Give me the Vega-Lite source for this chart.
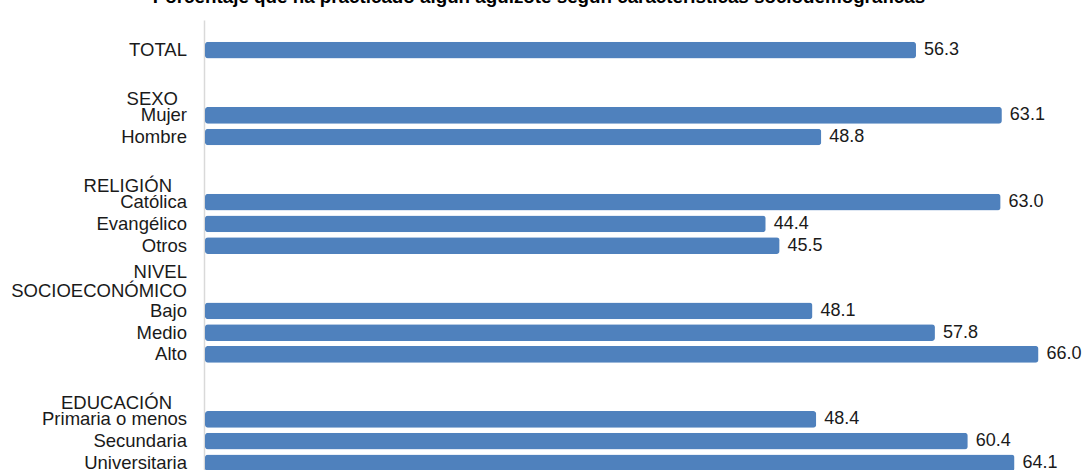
{
  "$schema": "https://vega.github.io/schema/vega-lite/v6.json",
  "autosize": "none",
  "padding": {"left": 205, "top": 20, "right": 0, "bottom": 0},
  "width": 884,
  "height": 473,
  "background": "white",
  "title": {
    "text": "Porcentaje que ha practicado algún agüizote según características sociodemográficas",
    "anchor": "middle",
    "dx": -108,
    "offset": 13,
    "font": "Liberation Sans",
    "fontSize": 18.8,
    "fontWeight": "bold",
    "color": "#000000"
  },
  "config": {
    "view": {"stroke": null},
    "text": {"font": "Liberation Sans", "fontSize": 18.5, "color": "#1a1a1a"}
  },
  "data": {
    "values": [
      {"row": "TOTAL", "label": "TOTAL", "value": 56.3},
      {"row": "Mujer", "label": "Mujer", "group": "SEXO", "value": 63.1},
      {"row": "Hombre", "label": "Hombre", "value": 48.8},
      {"row": "Católica", "label": "Católica", "group": "RELIGIÓN", "value": 63.0},
      {"row": "Evangélico", "label": "Evangélico", "value": 44.4},
      {"row": "Otros", "label": "Otros", "value": 45.5},
      {"row": "Bajo", "label": "Bajo", "group": "NIVEL SOCIOECONÓMICO", "value": 48.1},
      {"row": "Medio", "label": "Medio", "value": 57.8},
      {"row": "Alto", "label": "Alto", "value": 66.0},
      {"row": "Primaria o menos", "label": "Primaria o menos", "group": "EDUCACIÓN", "value": 48.4},
      {"row": "Secundaria", "label": "Secundaria", "value": 60.4},
      {"row": "Universitaria", "label": "Universitaria", "value": 64.1}
    ]
  },
  "encoding": {
    "y": {
      "field": "row",
      "type": "nominal",
      "scale": {
        "domain": ["TOTAL", "_1", "_2", "Mujer", "Hombre", "_5", "_6", "Católica", "Evangélico", "Otros", "_10", "_11", "Bajo", "Medio", "Alto", "_15", "_16", "Primaria o menos", "Secundaria", "Universitaria"],
        "paddingInner": 0.23,
        "paddingOuter": 1.18
      },
      "axis": {
        "title": null,
        "labels": false,
        "ticks": false,
        "domainColor": "#d9d9d9",
        "domainWidth": 1.5,
        "offset": 1
      }
    }
  },
  "layer": [
    {
      "mark": {"type": "bar", "color": "#4f81bd", "cornerRadius": 3},
      "encoding": {
        "x": {
          "field": "value",
          "type": "quantitative",
          "scale": {"domain": [0, 70], "nice": false, "zero": true},
          "axis": null
        }
      }
    },
    {
      "mark": {"type": "text", "align": "left", "baseline": "middle", "dx": 8, "fontSize": 18},
      "encoding": {
        "x": {"field": "value", "type": "quantitative"},
        "text": {"field": "value", "type": "quantitative", "format": ".1f"}
      }
    },
    {
      "mark": {"type": "text", "align": "right", "baseline": "middle", "dx": -18},
      "encoding": {
        "x": {"datum": 0, "type": "quantitative"},
        "text": {"field": "label"}
      }
    },
    {
      "transform": [{"filter": "datum.group == 'SEXO'"}],
      "mark": {"type": "text", "align": "right", "baseline": "bottom", "dx": -27, "dy": -6.5},
      "encoding": {
        "x": {"datum": 0, "type": "quantitative"},
        "text": {"field": "group"}
      }
    },
    {
      "transform": [{"filter": "datum.group == 'RELIGIÓN' || datum.group == 'EDUCACIÓN'"}],
      "mark": {"type": "text", "align": "right", "baseline": "bottom", "dx": -33, "dy": -6.5},
      "encoding": {
        "x": {"datum": 0, "type": "quantitative"},
        "text": {"field": "group"}
      }
    },
    {
      "transform": [{"filter": "datum.group == 'NIVEL SOCIOECONÓMICO'"}],
      "mark": {"type": "text", "align": "right", "baseline": "bottom", "dx": -18, "dy": -29, "lineBreak": " ", "lineHeight": 19.5},
      "encoding": {
        "x": {"datum": 0, "type": "quantitative"},
        "text": {"field": "group"}
      }
    }
  ]
}
